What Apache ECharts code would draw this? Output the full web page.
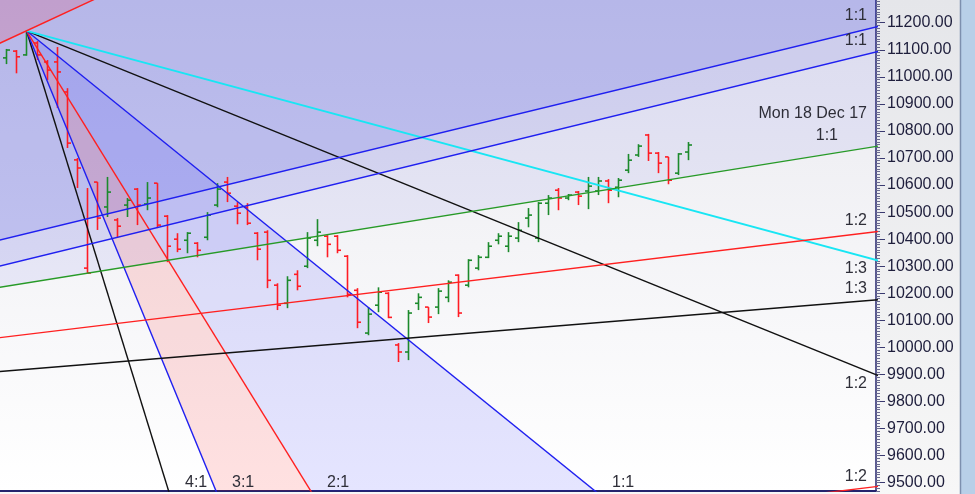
<!DOCTYPE html>
<html><head><meta charset="utf-8">
<script src="https://cdn.jsdelivr.net/npm/echarts@6/dist/echarts.min.js"></script>
<style>html,body{margin:0;padding:0;background:#f2f2f4}#c{width:975px;height:494px}</style>
</head><body><div id="c"></div>
<script>
// ---- OHLC data (bar index k, k=0 is the pivot-high bar) ----
const barIndex = [-3,-2,-1,0,1,2,3,4,5,6,7,8,9,10,11,12,13,14,15,16,17,18,19,20,21,22,23,24,25,26,27,28,29,30,31,32,33,34,35,36,37,38,39,40,41,42,43,44,45,46,47,48,49,50,51,52,53,54,55,56,57,58,59,60,61,62,63,64,65,66];
const opens  = [11060,11070,11095,11081,11125,11055,11055,10944,10693,10293,10611,10519,10471,10526,10585,10530,10607,10485,10400,10396,10385,10407,10526,10611,10522,10518,10422,10426,10230,10163,10270,10300,10396,10411,10411,10337,10211,10053,10156,10200,10009,9983,10163,10149,10149,10185,10267,10230,10293,10333,10396,10374,10404,10478,10404,10533,10581,10552,10574,10578,10578,10615,10592,10655,10711,10785,10718,10704,10644,10722];
const closes = [11088,11099,11074,11166,11081,11025,11018,10755,10663,10275,10478,10574,10448,10544,10526,10552,10452,10374,10363,10422,10359,10489,10585,10570,10496,10459,10363,10248,10156,10248,10226,10404,10426,10381,10359,10196,10093,10123,10204,10111,9983,10127,10185,10112,10208,10241,10127,10322,10333,10374,10411,10411,10433,10489,10533,10552,10552,10563,10559,10596,10615,10581,10618,10692,10744,10718,10681,10618,10715,10748];
const lows   = [11045,11047,11013,11078,11062,10988,10885,10737,10589,10275,10434,10482,10407,10482,10452,10507,10441,10315,10352,10348,10333,10396,10518,10537,10455,10452,10322,10219,10138,10145,10211,10293,10374,10333,10348,10185,10071,10045,10130,10108,9946,9953,10138,10090,10123,10167,10112,10222,10285,10330,10381,10352,10389,10444,10389,10489,10507,10544,10526,10511,10563,10533,10555,10644,10704,10689,10644,10603,10637,10692];
const highs  = [11095,11103,11099,11170,11132,11062,11110,10958,10700,10589,10611,10630,10478,10552,10589,10611,10607,10489,10422,10426,10389,10500,10607,10630,10537,10533,10426,10433,10237,10263,10285,10426,10474,10415,10415,10341,10219,10149,10222,10204,10016,10138,10200,10149,10219,10248,10270,10326,10341,10389,10422,10426,10463,10515,10537,10563,10589,10567,10578,10630,10630,10622,10626,10715,10751,10789,10722,10704,10718,10759];

// ---- Falling Gann fan from the pivot high ----
const fanOrigin = [0, 11170];
const fanRatios = ['4:1','3:1','2:1','1:1','1:2','1:3'];
const fanSlopes = [-120, -90, -60, -30, -15, -10];      // price per bar
const fanColors = ['#111111','#1f1ff0','#ff2020','#1f1ff0','#111111','#18e6f4'];

// ---- Rising lines (price at k=0, price per bar) ----
const riseNames  = ['upperBlue','lowerBlue','green','red','black','redLow','redSteep'];
const riseAt0    = [10421, 10325, 10238, 10048, 9919, 9106, 11170];
const riseSlopes = [9.01, 9.05, 5.96, 4.48, 3.03, 4.48, 17.2];
const riseColors = ['#1f1ff0','#1f1ff0','#279a27','#ff2020','#111111','#ff2020','#ff2020'];

// ---- Axis ticks ----
const yTickLabels = [9500,9600,9700,9800,9900,10000,10100,10200,10300,10400,10500,10600,10700,10800,10900,11000,11100,11200];
const Y_MIN = 9469.3, Y_MAX = 11283.9;
const X_MIN = -2.642, X_MAX = 84.70;

const minorTicks = [];
for (let v = 9470; v <= 11280; v += 10) minorTicks.push(v);

function rise(i, k) { return riseAt0[i] + riseSlopes[i] * k; }
function fan(i, k) { return fanOrigin[1] + fanSlopes[i] * (k - fanOrigin[0]); }

const K0 = -6, K1 = 92, TOP = 12500, BOT = 7000;

// polygons in data coordinates
function band(a, b) { return [[K0, rise(a,K0)],[K1, rise(a,K1)],[K1, rise(b,K1)],[K0, rise(b,K0)]]; }
function above(a) { return [[K0, rise(a,K0)],[K1, rise(a,K1)],[K1, TOP],[K0, TOP]]; }
function sector(i, j) {
  const ki = fanOrigin[0] + (BOT - fanOrigin[1]) / fanSlopes[i];
  const kj = fanOrigin[0] + (BOT - fanOrigin[1]) / fanSlopes[j];
  return [fanOrigin, [ki, BOT], [kj, BOT]];
}
const fills = [
  { pts: above(0),   color: 'rgba(25,28,215,0.245)' },
  { pts: band(0,1),  color: 'rgba(40,40,215,0.15)' },
  { pts: band(1,2),  color: 'rgba(60,60,225,0.08)' },
  { pts: above(6),   color: 'rgba(255,40,60,0.16)' },
  { pts: sector(3,2),color: 'rgba(20,20,255,0.11)' },
  { pts: sector(2,1),color: 'rgba(255,10,10,0.12)' }
];

const chart = echarts.init(document.getElementById('c'), null, {renderer: 'canvas'});

const series = [];
fills.forEach((f, idx) => {
  series.push({
    type: 'custom', name: 'fill' + idx, silent: true, z: 1, clip: true,
    data: [[0]],
    renderItem: function (params, api) {
      const pts = f.pts.map(p => api.coord(p));
      const cs = params.coordSys;
      return { type: 'polygon', shape: { points: pts }, style: { fill: f.color },
        clipPath: { type: 'rect', shape: { x: cs.x, y: cs.y, width: cs.width, height: cs.height } } };
    }
  });
});

function lineSeries(name, data, color, w) {
  return { type: 'line', name: name, data: data, showSymbol: false, symbol: 'none', silent: true,
    z: 5, clip: true, lineStyle: { color: color, width: w || 1.4 }, animation: false };
}
fanRatios.forEach((r, i) => {
  series.push(lineSeries('fan ' + r, [fanOrigin, [fanOrigin[0] + 130, fan(i, fanOrigin[0] + 130)]], fanColors[i], i === 5 ? 1.8 : 1.4));
});
riseNames.forEach((n, i) => {
  series.push(lineSeries(n, [[K0, rise(i, K0)], [K1, rise(i, K1)]], riseColors[i], 1.4));
});

const ohlc = barIndex.map((k, i) => [k, opens[i], closes[i], lows[i], highs[i]]);
series.push({
  type: 'custom', name: 'bars', z: 4, clip: true, data: ohlc,
  encode: { x: 0, y: [1, 2, 3, 4] },
  renderItem: function (params, api) {
    const k = api.value(0), o = api.value(1), c = api.value(2), l = api.value(3), h = api.value(4);
    const pO = api.coord([k, o]), pC = api.coord([k, c]), pL = api.coord([k, l]), pH = api.coord([k, h]);
    const x = Math.round(pO[0]) + 0.5;
    const col = c >= o ? '#1c8a2c' : '#ff1c24';
    const st = { stroke: col, lineWidth: 1.6 };
    const cs = params.coordSys;
    return { type: 'group',
      clipPath: { type: 'rect', shape: { x: cs.x, y: cs.y, width: cs.width, height: cs.height } },
      children: [
      { type: 'line', shape: { x1: x, y1: pH[1], x2: x, y2: pL[1] }, style: st },
      { type: 'line', shape: { x1: x - 3.5, y1: pO[1], x2: x, y2: pO[1] }, style: st },
      { type: 'line', shape: { x1: x, y1: pC[1], x2: x + 3.5, y2: pC[1] }, style: st }
    ]};
  }
});

const TXT = { fontFamily: 'Liberation Sans, Arial, sans-serif', fontSize: 16, fill: '#2e2e38' };
function t(text, x, y, align) {
  return { type: 'text', x: x, y: y, z: 100, silent: true,
    style: Object.assign({}, TXT, { text: text, textAlign: align || 'right', textVerticalAlign: 'middle' }) };
}

chart.setOption({
  animation: false,
  backgroundColor: { type: 'linear', x: 0, y: 0, x2: 0, y2: 1,
    colorStops: [{ offset: 0, color: '#e5e6ea' }, { offset: 1, color: '#f7f7f7' }] },
  grid: { left: 0, top: 0, right: 99, bottom: 3, show: true, borderWidth: 0,
    backgroundColor: { type: 'linear', x: 0, y: 0, x2: 0, y2: 1,
      colorStops: [{ offset: 0, color: '#e9e9ef' }, { offset: 1, color: '#ffffff' }] } },
  xAxis: { type: 'value', min: X_MIN, max: X_MAX,
    axisLine: { show: true, onZero: false, lineStyle: { color: '#24246e', width: 2 } },
    axisTick: { show: false }, axisLabel: { show: false }, splitLine: { show: false } },
  yAxis: [
    { type: 'value', position: 'right', min: Y_MIN, max: Y_MAX,
      axisLine: { show: true, onZero: false, lineStyle: { color: '#24246e', width: 1.5 } },
      axisTick: { show: true, customValues: yTickLabels, length: 9, lineStyle: { color: '#3a3a70', width: 1 } },
      axisLabel: { customValues: yTickLabels, margin: 11, color: '#1e1e3c',
        fontFamily: 'Liberation Sans, Arial, sans-serif', fontSize: 16,
        formatter: v => Number(v).toFixed(2) },
      splitLine: { show: false } },
    { type: 'value', position: 'right', min: Y_MIN, max: Y_MAX,
      axisLine: { show: false, onZero: false },
      axisTick: { show: true, customValues: minorTicks, length: 4, lineStyle: { color: '#6a6a90', width: 1 } },
      axisLabel: { show: false }, splitLine: { show: false } }
  ],
  graphic: [
    { type: 'rect', shape: { x: 961, y: 0, width: 14, height: 494 }, silent: true, z: 50,
      style: { fill: '#b8cfe8' } },
    { type: 'line', shape: { x1: 960.5, y1: 0, x2: 960.5, y2: 494 }, silent: true, z: 51,
      style: { stroke: '#7d8fae', lineWidth: 1.5 } },
    t('Mon 18 Dec 17', 867, 114),
    t('1:1', 838, 136),
    t('1:1', 867, 16),
    t('1:1', 867, 41),
    t('1:2', 867, 221),
    t('1:3', 867, 269),
    t('1:3', 867, 289),
    t('1:2', 867, 384),
    t('1:2', 867, 477),
    t('4:1', 185, 483, 'left'),
    t('3:1', 232, 483, 'left'),
    t('2:1', 327, 483, 'left'),
    t('1:1', 612, 483, 'left')
  ],
  series: series
});
</script></body></html>
